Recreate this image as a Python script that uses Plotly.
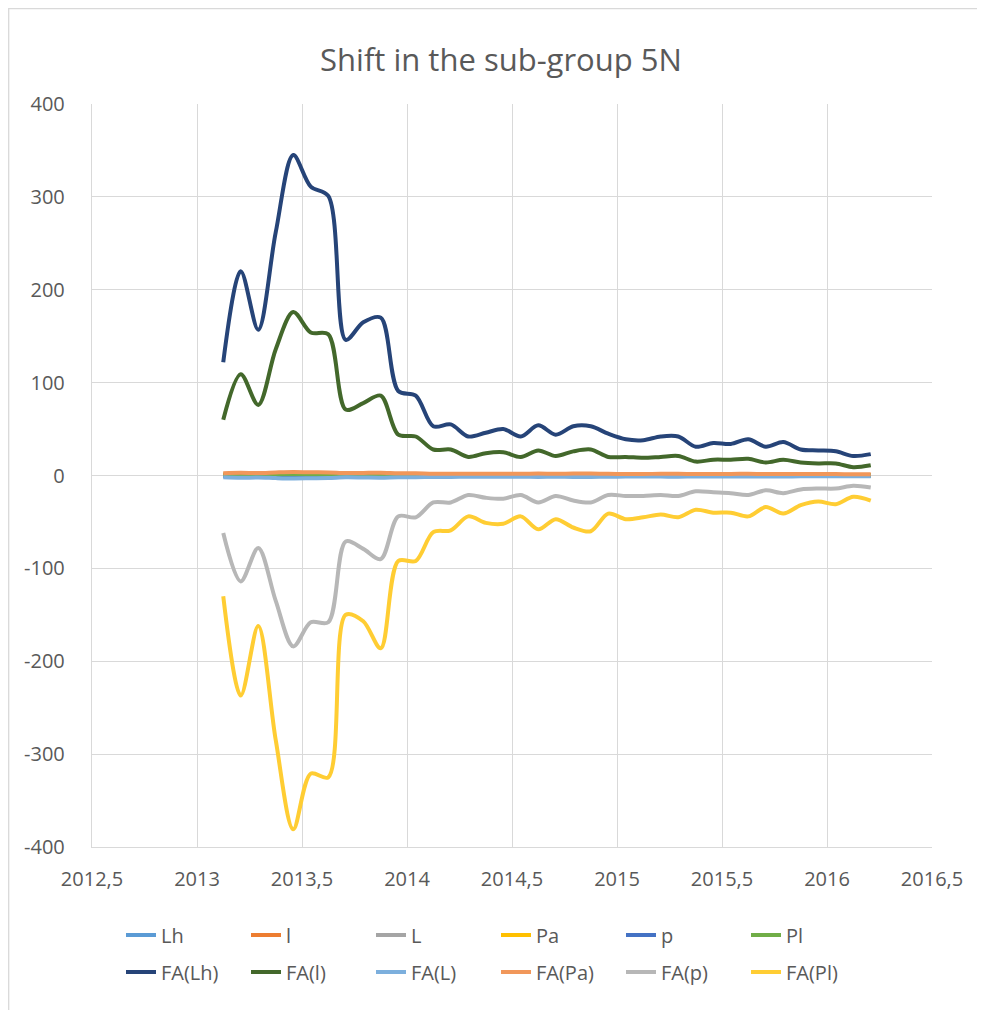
import plotly.graph_objects as go

# Monthly time axis (decimal years)
x_start = 2013.125
n_points = 38
x_values = [round(x_start + i / 12, 4) for i in range(n_points)]

# Raw series (near zero)
lh = [0.5, 0.6, 0.4, 0.5, 0.7, 0.6, 0.5, 0.4, 0.5, 0.5, 0.4, 0.4, 0.3, 0.3, 0.3, 0.3, 0.3, 0.3, 0.3, 0.3,
      0.3, 0.3, 0.2, 0.2, 0.2, 0.2, 0.2, 0.2, 0.2, 0.2, 0.2, 0.2, 0.2, 0.2, 0.2, 0.1, 0.1, 0.1]
l_ = [1.2, 1.3, 1.1, 1.4, 1.6, 1.5, 1.4, 1.1, 1.2, 1.2, 1.0, 1.0, 0.9, 0.9, 0.8, 0.8, 0.8, 0.8, 0.9, 0.8,
      0.8, 0.8, 0.7, 0.7, 0.7, 0.7, 0.7, 0.6, 0.6, 0.6, 0.6, 0.6, 0.6, 0.5, 0.5, 0.5, 0.5, 0.5]
L_ = [-0.3, -0.4, -0.3, -0.5, -0.6, -0.5, -0.5, -0.3, -0.3, -0.4, -0.2, -0.2, -0.2, -0.2, -0.2, -0.2, -0.2, -0.2, -0.2, -0.2,
      -0.2, -0.2, -0.1, -0.1, -0.1, -0.1, -0.1, -0.1, -0.1, -0.1, -0.1, -0.1, -0.1, -0.1, -0.1, -0.1, -0.1, -0.1]
pa = [0.4, 0.5, 0.4, 0.6, 0.7, 0.6, 0.6, 0.4, 0.4, 0.5, 0.3, 0.3, 0.3, 0.3, 0.2, 0.2, 0.2, 0.2, 0.3, 0.2,
      0.2, 0.2, 0.2, 0.2, 0.2, 0.2, 0.2, 0.2, 0.2, 0.2, 0.2, 0.2, 0.2, 0.1, 0.1, 0.1, 0.1, 0.1]
p_ = [-0.5, -0.6, -0.5, -0.7, -0.9, -0.8, -0.8, -0.5, -0.5, -0.6, -0.4, -0.4, -0.3, -0.3, -0.3, -0.3, -0.3, -0.3, -0.3, -0.3,
      -0.3, -0.3, -0.2, -0.2, -0.2, -0.2, -0.2, -0.2, -0.2, -0.2, -0.2, -0.2, -0.2, -0.2, -0.2, -0.1, -0.1, -0.1]
pl = [0.8, 1.0, 0.8, 1.1, 1.3, 1.2, 1.1, 0.8, 0.9, 0.9, 0.7, 0.7, 0.6, 0.6, 0.5, 0.5, 0.6, 0.5, 0.6, 0.5,
      0.6, 0.6, 0.5, 0.5, 0.5, 0.5, 0.5, 0.4, 0.4, 0.4, 0.4, 0.4, 0.4, 0.4, 0.3, 0.3, 0.3, 0.3]

# Factor-adjusted series
fa_lh = [122, 220, 157, 262, 345, 311, 301, 146, 165, 170, 91, 86, 53, 55, 42, 46, 50, 42, 54, 44,
         53, 53, 45, 39, 38, 42, 42, 31, 35, 34, 39, 31, 36, 28, 27, 26, 21, 23]
fa_l = [60, 109, 76, 136, 176, 154, 152, 71, 78, 86, 44, 42, 28, 28, 20, 24, 25, 20, 27, 21,
        26, 28, 20, 20, 19, 20, 21, 15, 17, 17, 18, 14, 17, 14, 13, 13, 9, 11]
fa_L = [-2.0, -2.5, -2.2, -2.8, -3.2, -3.0, -2.8, -2.0, -2.2, -2.4, -1.8, -1.8, -1.5, -1.5, -1.3, -1.4, -1.4, -1.3, -1.5, -1.3,
        -1.5, -1.5, -1.3, -1.2, -1.2, -1.2, -1.3, -1.0, -1.1, -1.1, -1.2, -1.0, -1.1, -0.9, -0.9, -0.9, -0.8, -0.8]
fa_pa = [2.5, 3.0, 2.6, 3.3, 3.8, 3.4, 3.3, 2.6, 2.8, 3.0, 2.4, 2.3, 1.9, 2.0, 1.8, 1.9, 2.0, 1.8, 2.1, 1.8,
         2.1, 2.1, 1.8, 1.7, 1.7, 1.8, 1.8, 1.6, 1.7, 1.7, 1.8, 1.6, 1.7, 1.5, 1.5, 1.5, 1.4, 1.4]
fa_p = [-62, -114, -78, -135, -184, -158, -158, -71, -79, -90, -44, -45, -29, -29, -21, -24, -25, -21, -29, -22,
        -27, -29, -21, -22, -22, -21, -22, -17, -18, -19, -21, -16, -19, -15, -14, -14, -11, -13]
fa_pl = [-130, -237, -162, -285, -381, -321, -325, -150, -157, -186, -92, -92, -61, -59, -44, -51, -52, -44, -58, -47,
         -56, -60, -41, -47, -45, -42, -45, -37, -40, -40, -44, -34, -41, -32, -28, -31, -23, -27]

series_names = ["Lh", "l", "L", "Pa", "p", "Pl",
                "FA(Lh)", "FA(l)", "FA(L)", "FA(Pa)", "FA(p)", "FA(Pl)"]
series_values = [lh, l_, L_, pa, p_, pl, fa_lh, fa_l, fa_L, fa_pa, fa_p, fa_pl]
series_colors = ["#5B9BD5", "#ED7D31", "#A5A5A5", "#FFC000", "#4472C4", "#70AD47",
                 "#264478", "#43682B", "#7CAFDD", "#F1975A", "#B7B7B7", "#FFCD33"]

x_tick_vals = [2012.5, 2013, 2013.5, 2014, 2014.5, 2015, 2015.5, 2016, 2016.5]
x_tick_text = ["2012,5", "2013", "2013,5", "2014", "2014,5", "2015", "2015,5", "2016", "2016,5"]
y_tick_vals = [-400, -300, -200, -100, 0, 100, 200, 300, 400]
y_tick_text = ["-400", "-300", "-200", "-100", "0", "100", "200", "300", "400"]

FONT = "'Open Sans', Lato, sans-serif"
TXT = "#595959"

fig = go.Figure()
for i, (name, vals, col) in enumerate(zip(series_names, series_values, series_colors)):
    fig.add_trace(go.Scatter(
        x=x_values, y=vals, name=name, mode="lines",
        line=dict(color=col, width=4, shape="spline", smoothing=0.9),
        legend="legend" if i < 6 else "legend2",
    ))

# The page body adds an 8px offset; figure coordinates = page coordinates - 8
W, H = 977, 1002
ml, mr, mt, mb = 84, 53, 96, 163
pw = W - ml - mr
ph = H - mt - mb

def px_to_paper_x(px):
    return (px - ml) / pw

def px_to_paper_y(py):
    return (H - mb - py) / ph

leg_common = dict(orientation="h", x=px_to_paper_x(113), xanchor="left", yanchor="middle",
                  entrywidth=80, entrywidthmode="pixels",
                  font=dict(size=20, color=TXT), bgcolor="rgba(0,0,0,0)")

fig.update_layout(
    width=W, height=H,
    margin=dict(l=ml, r=mr, t=mt, b=mb, autoexpand=False),
    paper_bgcolor="white", plot_bgcolor="white",
    font=dict(family=FONT, size=20, color=TXT),
    title=dict(text="Shift in the sub-group 5N", x=493 / W, xanchor="center",
               y=1 - 52 / H, yanchor="middle",
               font=dict(family=FONT, size=31, color=TXT)),
    xaxis=dict(range=[2012.5, 2016.5], tickvals=x_tick_vals, ticktext=x_tick_text,
               showgrid=True, gridcolor="#D9D9D9", gridwidth=1.4,
               zeroline=False, showline=True, linecolor="#D9D9D9", linewidth=1.4,
               ticks="", tickfont=dict(size=20, color=TXT), ticklabelstandoff=14,
               automargin=False),
    yaxis=dict(range=[-400, 400], tickvals=y_tick_vals, ticktext=y_tick_text,
               showgrid=True, gridcolor="#D9D9D9", gridwidth=1.4,
               zeroline=False, showline=True, linecolor="#D9D9D9", linewidth=1.4,
               ticks="", tickfont=dict(size=20, color=TXT), ticklabelstandoff=22,
               automargin=False),
    legend=dict(**leg_common, y=px_to_paper_y(927)),
    legend2=dict(**leg_common, y=px_to_paper_y(964)),
    showlegend=True,
)

# Chart-area border
fig.add_shape(type="rect", xref="paper", yref="paper",
              x0=px_to_paper_x(0.7), x1=px_to_paper_x(1000),
              y0=px_to_paper_y(1020), y1=px_to_paper_y(0.7),
              line=dict(color="#D9D9D9", width=1.3), layer="below")

fig.write_html("out.html")
